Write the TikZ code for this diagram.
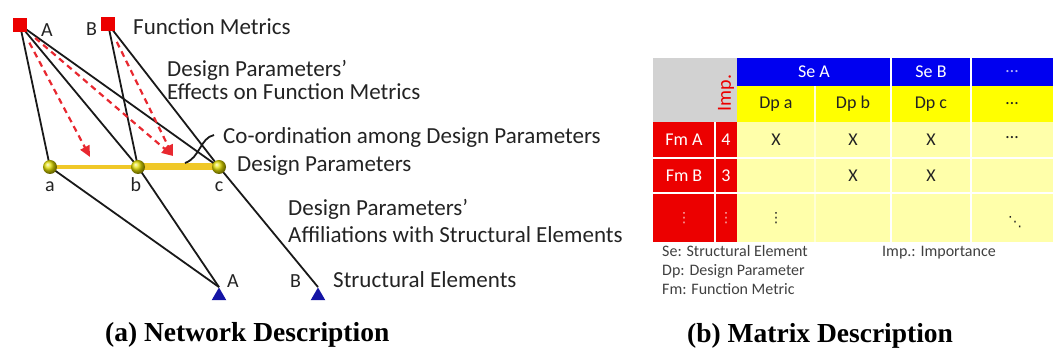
\documentclass[tikz,border=0pt]{standalone}
\usepackage{fontspec}
\setmainfont{Liberation Serif}
\newfontfamily\calibfont{Carlito}
\newfontfamily\symbfont{DejaVu Sans}
\usetikzlibrary{arrows.meta}
\usetikzlibrary{shapes.geometric}
\usetikzlibrary{backgrounds}

\definecolor{fmred}{RGB}{236,0,0}
\definecolor{dpolive}{RGB}{225,220,0}
\definecolor{dpgold}{RGB}{240,200,40}
\definecolor{senavy}{RGB}{20,20,165}
\definecolor{linkgrey}{RGB}{25,25,25}
\definecolor{effectred}{RGB}{232,40,48}
\definecolor{headblue}{RGB}{0,0,240}
\definecolor{headyellow}{RGB}{255,255,0}
\definecolor{bodyyellow}{RGB}{255,255,170}
\definecolor{cornergrey}{RGB}{210,210,210}
\definecolor{textgrey}{RGB}{35,35,35}

\begin{document}
\begin{tikzpicture}[x=1pt,y=1pt,yscale=-1,xscale=1,
  fmsquare/.style={fill=fmred, minimum size=14pt, inner sep=0pt},
  dpball/.style={circle, ball color=dpolive, minimum size=14pt, inner sep=0pt},
  setri/.style={regular polygon, regular polygon sides=3, fill=senavy, minimum size=17pt, inner sep=0pt},
  link/.style={line width=1.8pt, draw=linkgrey},
  dpbar/.style={line width=4pt, draw=dpgold},
  effect/.style={line width=2.2pt, draw=effectred, dash pattern=on 6pt off 4.5pt, shorten <=20pt, -{Triangle[length=11pt,width=10pt,fill=effectred]}},
  lbl/.style={font=\calibfont\fontsize{23}{27}\selectfont, text=textgrey, anchor=base west, inner sep=0pt},
  tag/.style={font=\calibfont\fontsize{20}{22}\selectfont, text=textgrey, inner sep=0pt},
  cell/.style={font=\calibfont\fontsize{18}{20}\selectfont, inner sep=0pt},
  legend/.style={font=\calibfont\fontsize{16}{18}\selectfont, text=black!75, anchor=base west, inner sep=0pt},
  caption/.style={font=\bfseries\fontsize{27.5}{30}\selectfont, anchor=base west, inner sep=0pt},
  cellsep/.style={line width=1.4pt, draw=white}]
\useasboundingbox (0,0) rectangle (1053,352);

%%%%% (a) Network Description
%Shape: Function Metrics
\node[fmsquare] (fmA) at (20,25) {};
\node[fmsquare] (fmB) at (108,24) {};
%Shape: Design Parameters
\node[dpball] (dpa) at (50,167) {};
\node[dpball] (dpb) at (138,167) {};
\node[dpball] (dpc) at (219,167) {};
%Shape: Structural Elements
\node[setri] (seA) at (219,296) {};
\node[setri] (seB) at (318,296) {};

\begin{scope}[on background layer]
%Straight Lines: co-ordination bar
\draw[dpbar] (dpa.center) -- (dpb.center);
\draw[dpbar, line width=7pt] (dpb.center) -- (dpc.center);
%Straight Lines: metrics to parameters
\draw[link] (fmA.center) -- (dpa.center);
\draw[link] (fmA.center) -- (dpb.center);
\draw[link] (fmA.center) -- (dpc.center);
\draw[link] (fmB.center) -- (dpb.center);
\draw[link] (fmB.center) -- (dpc.center);
%Straight Lines: parameters to elements
\draw[link] (dpa.center) -- (seA.north);
\draw[link] (dpb.center) -- (seA.north);
\draw[link] (dpc.center) -- (seB.north);
\end{scope}

%Dashed Arrows: effects
\coordinate (hitA) at (90,157);
\coordinate (hitB) at (173,156);
\draw[effect] (fmA.center) -- (hitA);
\draw[effect] (fmA.center) -- (hitB);
\draw[effect] (fmB.center) -- (hitB);

%Curve Lines: co-ordination pointer
\draw[link] (185,163) .. controls (200,158) and (200,138) .. (214,135);

% Text Node
\node[tag, anchor=base west] (tfmA) at (41,37) {A};
\node[tag, anchor=base west] (tfmB) at (86,36) {B};
\node[tag, anchor=base] (tdpa) at (50,192) {a};
\node[tag, anchor=base] (tdpb) at (136,192) {b};
\node[tag, anchor=base] (tdpc) at (219,192) {c};
\node[tag, anchor=base west] (tseA) at (227,288) {A};
\node[tag, anchor=base west] (tseB) at (290,288) {B};
% Text Node
\node[lbl] (fmtitle) at (133,35) {Function Metrics};
\node[lbl] (effect1) at (167,77) {Design Parameters’};
\node[lbl] (effect2) at (167,100) {Effects on Function Metrics};
\node[lbl] (coord) at (223,144) {Co-ordination among Design Parameters};
\node[lbl] (dptitle) at (237,172) {Design Parameters};
\node[lbl] (affil1) at (288,216) {Design Parameters’};
\node[lbl] (affil2) at (288,243) {Affiliations with Structural Elements};
\node[lbl] (setitle) at (333,288) {Structural Elements};
\node[caption] (capa) at (105,342) {(a) Network Description};

%%%%% (b) Matrix Description
%Shape: cell blocks
\fill[cornergrey] (653,58) rectangle (737,122);
\fill[headblue] (737,58) rectangle (1053,86);
\fill[headyellow] (737,86) rectangle (1053,122);
\fill[fmred] (653,122) rectangle (737,242);
\fill[bodyyellow] (737,122) rectangle (1053,242);
%Straight Lines: cell borders
\foreach \x in {891,971}
  \draw[cellsep] (\x,58) -- (\x,242);
\draw[cellsep, draw=white!50!bodyyellow] (815,86) -- (815,242);
\draw[cellsep] (715,122) -- (715,242);
\foreach \y in {158,193}
  \draw[cellsep] (653,\y) -- (1053,\y);

% Text Node
\node[cell, text=white] (hseA) at (814,72) {Se A};
\node[cell, text=white] (hseB) at (931,72) {Se B};
\node[cell, text=white!70!headblue] (hsemore) at (1012,72) {…};
\node[cell, text=textgrey] (hdpa) at (776,104) {Dp a};
\node[cell, text=textgrey] (hdpb) at (853,104) {Dp b};
\node[cell, text=textgrey] (hdpc) at (931,104) {Dp c};
\node[cell, text=textgrey] (hdpmore) at (1012,104) {…};
\node[cell, text=fmred, rotate=90, font=\calibfont\fontsize{20}{22}\selectfont] (himp) at (726,93) {Imp.};
\node[cell, text=white] (rfmA) at (684,140) {Fm A};
\node[cell, text=white] (rimpA) at (726,140) {4};
\node[cell, text=white] (rfmB) at (684,176) {Fm B};
\node[cell, text=white] (rimpB) at (726,176) {3};
\node[cell, text=white!70!fmred, font=\symbfont\fontsize{14}{16}\selectfont] (rfmmore) at (684,218) {⋮};
\node[cell, text=white!70!fmred, font=\symbfont\fontsize{14}{16}\selectfont] (rimpmore) at (726,218) {⋮};
% Text Node: marks
\foreach \cx/\cy in {776/140, 853/140, 931/140, 853/176, 931/176}
  \node[cell, text=textgrey] at (\cx,\cy) {X};
\node[cell, text=textgrey] (mmore) at (1012,138) {…};
\node[cell, text=textgrey, font=\symbfont\fontsize{14}{16}\selectfont] (mvdots) at (776,218) {⋮};
\node[cell, text=textgrey, font=\symbfont\fontsize{14}{16}\selectfont] (mddots) at (1015,222) {⋱};
% Text Node: legend
\node[legend] (legse) at (662,257) {Se: Structural Element};
\node[legend] (legimp) at (882,257) {Imp.: Importance};
\node[legend] (legdp) at (662,276) {Dp: Design Parameter};
\node[legend] (legfm) at (662,295) {Fm: Function Metric};
\node[caption] (capb) at (687,343) {(b) Matrix Description};

\end{tikzpicture}
\end{document}
